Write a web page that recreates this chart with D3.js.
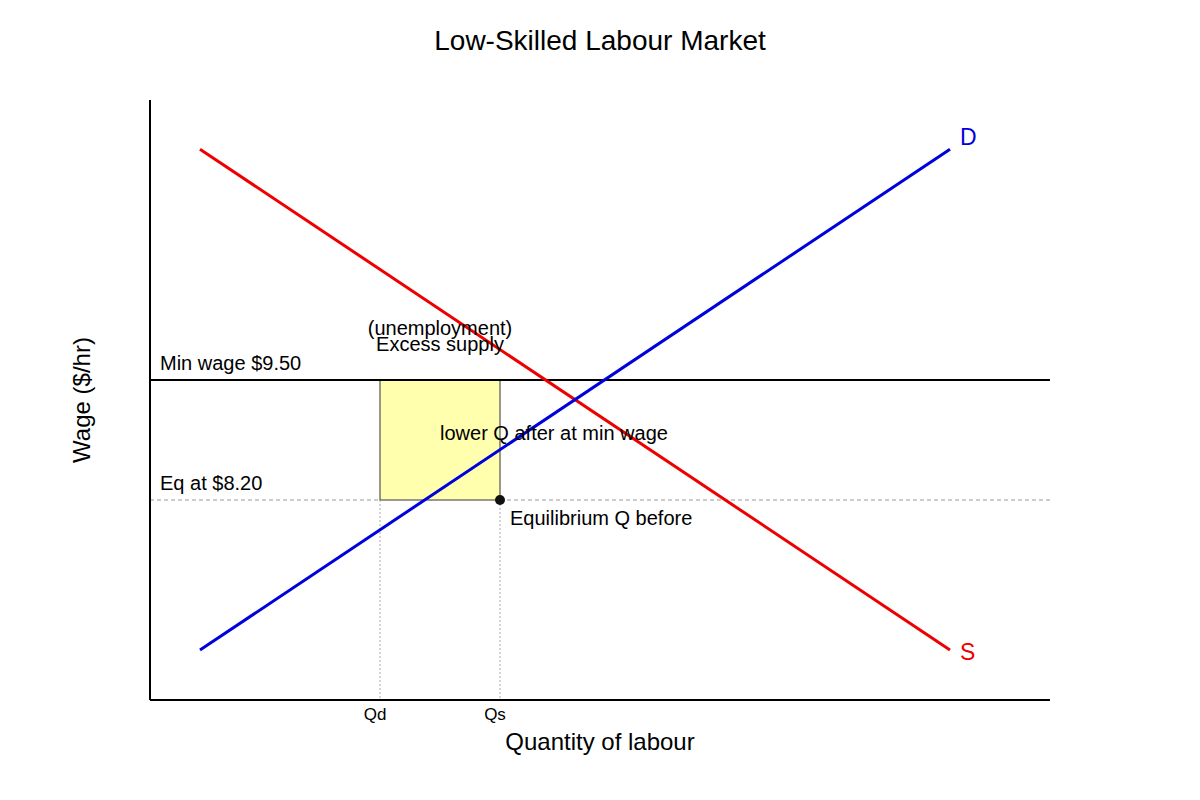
<!DOCTYPE html><html><head><meta charset="utf-8"><script src="https://cdn.jsdelivr.net/npm/d3@7"></script>
<style>body{margin:0;background:#fff}text{font-family:"Liberation Sans",Arial,sans-serif}</style></head><body>
<svg id="c" width="1200" height="800"></svg>
<script>
const supplyLine=[{q:0.5,w:12.0},{q:8.0,w:6.575}];
const demandLine=[{q:0.5,w:6.575},{q:8.0,w:12.0}];
const minWage=9.5, eqWage=8.2;
const qd=2.3, qs=3.5;
const xTicks=[{q:qd,label:"Qd"},{q:qs,label:"Qs"}];
const svg=d3.select("#c");
const x=d3.scaleLinear().domain([0,9]).range([150,1050]);
const y=d3.scaleLinear().domain([eqWage,minWage]).range([500,380]);
const yTop=12.533, yBot=6.033;
svg.append("text").attr("x",600).attr("y",50).attr("text-anchor","middle").attr("font-size",28).text("Low-Skilled Labour Market");
svg.append("rect").attr("x",x(qd)).attr("y",y(minWage)).attr("width",x(qs)-x(qd)).attr("height",y(eqWage)-y(minWage)).attr("fill","#ffff99").attr("fill-opacity",0.8).attr("stroke","#333").attr("stroke-width",1);
svg.append("line").attr("x1",x(0)).attr("x2",x(9)).attr("y1",y(eqWage)).attr("y2",y(eqWage)).attr("stroke","#999").attr("stroke-dasharray","4,3");
xTicks.forEach(t=>{
 svg.append("line").attr("x1",x(t.q)).attr("x2",x(t.q)).attr("y1",y(eqWage)).attr("y2",y(yBot)).attr("stroke","#aaa").attr("stroke-dasharray","2,2");
 svg.append("text").attr("x",x(t.q)-5).attr("y",720).attr("text-anchor","middle").attr("font-size",17).text(t.label);
});
svg.append("line").attr("x1",x(0)).attr("x2",x(9)).attr("y1",y(minWage)).attr("y2",y(minWage)).attr("stroke","#000").attr("stroke-width",2);
const line=d3.line().x(d=>x(d.q)).y(d=>y(d.w));
svg.append("path").attr("d",line(supplyLine)).attr("stroke","#e00").attr("stroke-width",3).attr("fill","none");
svg.append("path").attr("d",line(demandLine)).attr("stroke","#0000dd").attr("stroke-width",3).attr("fill","none");
svg.append("line").attr("x1",150).attr("x2",150).attr("y1",y(yTop)).attr("y2",y(yBot)).attr("stroke","#000").attr("stroke-width",2);
svg.append("line").attr("x1",150).attr("x2",1050).attr("y1",y(yBot)).attr("y2",y(yBot)).attr("stroke","#000").attr("stroke-width",2);
svg.append("circle").attr("cx",x(qs)).attr("cy",y(eqWage)).attr("r",5).attr("fill","#111");
const t=(xx,yy,s,fs,col,anc)=>svg.append("text").attr("x",xx).attr("y",yy).attr("font-size",fs).attr("fill",col||"#000").attr("text-anchor",anc||"start").text(s);
t(960,145,"D",23,"#0000dd");
t(960,660,"S",23,"#e00");
t(160,370,"Min wage $9.50",20);
t(160,490,"Eq at $8.20",20);
t(440,335,"(unemployment)",20,"#000","middle");
t(440,351,"Excess supply",20,"#000","middle");
t(440,440,"lower Q after at min wage",20);
t(510,525,"Equilibrium Q before",20);
t(600,750,"Quantity of labour",24,"#000","middle");
svg.append("text").attr("transform","translate(90,400) rotate(-90)").attr("text-anchor","middle").attr("font-size",24).text("Wage ($/hr)");
</script></body></html>
